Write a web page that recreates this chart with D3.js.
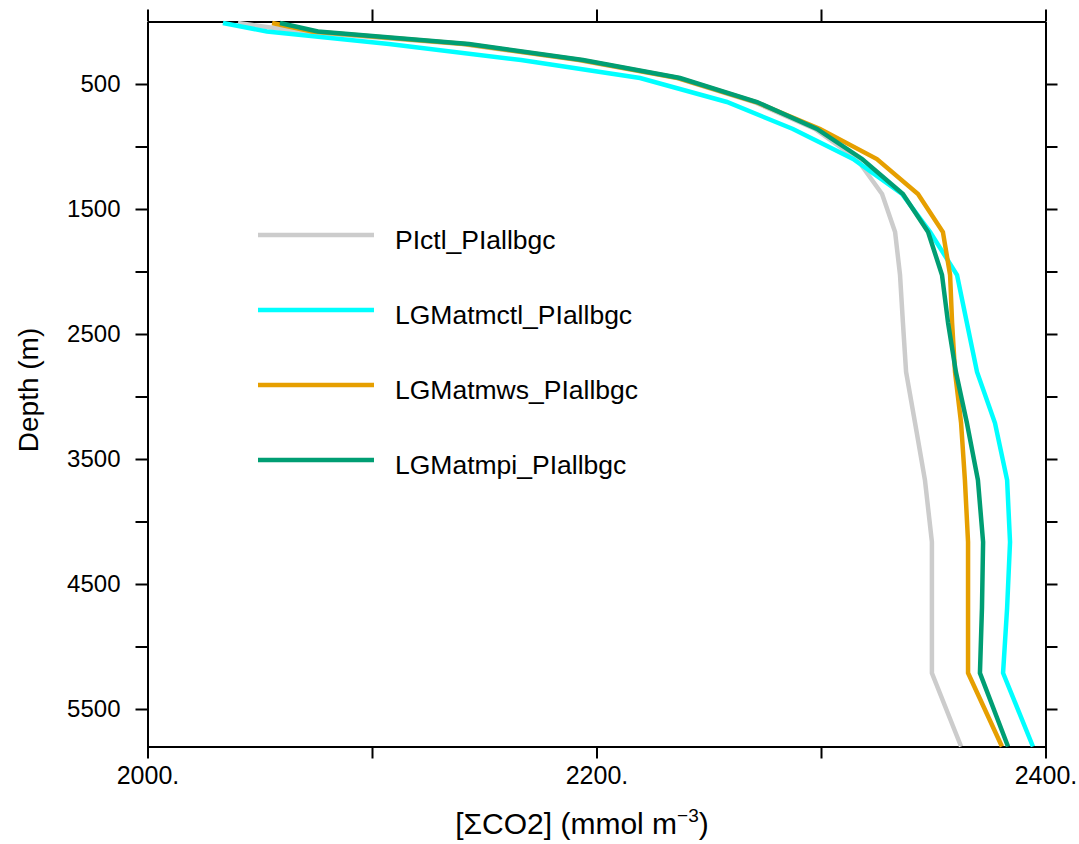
<!DOCTYPE html>
<html lang="en">
<head>
<meta charset="UTF-8">
<title>DIC profiles</title>
<script src="https://d3js.org/d3.v7.min.js"></script>
<style>
    body { margin: 0; background: #fff; }
    svg { display: block; font-family: "Liberation Sans", Arial, sans-serif; }
    .axis path, .axis line { stroke: #000; stroke-width: 2; }
    .axis text { fill: #000; font-size: 24px; }
    .xaxis text { font-size: 25px; }
</style>
</head>
<body>
<svg width="1079" height="844"></svg>
<script>
// model levels (m) and [ΣCO2] per run
var depth = [12, 80, 180, 308, 452, 644, 860, 1100, 1380, 1684, 2028, 2412, 2804, 3212, 3668, 4164, 4692, 5212, 5800];
var piCtl = [2040.3, 2067.9, 2140.1, 2191.8, 2235.9, 2270.2, 2297.3, 2316.0, 2327.2, 2333.0, 2335.2, 2336.5, 2337.9, 2341.9, 2346.3, 2349.4, 2349.4, 2349.4, 2362.4];
var lgmCtl = [2033.6, 2053.2, 2107.6, 2166.4, 2219.4, 2258.1, 2287.5, 2314.3, 2336.1, 2348.6, 2360.6, 2365.0, 2369.5, 2377.5, 2382.9, 2384.2, 2382.9, 2381.1, 2394.4];
var lgmWs = [2055.5, 2073.3, 2141.4, 2192.7, 2236.3, 2271.0, 2299.6, 2324.9, 2343.2, 2354.3, 2357.5, 2358.4, 2359.7, 2362.4, 2364.1, 2365.5, 2365.5, 2365.5, 2380.6];
var lgmPi = [2059.0, 2075.9, 2143.2, 2194.0, 2237.2, 2271.5, 2298.2, 2318.3, 2336.5, 2347.7, 2353.9, 2356.6, 2360.1, 2365.0, 2369.9, 2372.2, 2371.7, 2370.8, 2383.3];

var seriesNames = ["PIctl_PIallbgc", "LGMatmctl_PIallbgc", "LGMatmws_PIallbgc", "LGMatmpi_PIallbgc"];
var seriesColors = ["#cccccc", "#00ffff", "#e69f00", "#009e73"];
var seriesValues = [piCtl, lgmCtl, lgmWs, lgmPi];

var xTicks = [2000, 2100, 2200, 2300, 2400];
var xLabels = [2000, 2200, 2400];
var yTicks = [500, 1000, 1500, 2000, 2500, 3000, 3500, 4000, 4500, 5000, 5500];
var yLabels = [500, 1500, 2500, 3500, 4500, 5500];

var svg = d3.select("svg");

var x = d3.scaleLinear().domain([2000, 2400]).range([147.5, 1045.5]);
var y = d3.scaleLinear().domain([0, 5800]).range([21.5, 746.5]);

// axes on all four sides, ticks pointing out
svg.append("g").attr("class", "axis xaxis")
    .attr("transform", "translate(0," + y.range()[1] + ")")
    .call(d3.axisBottom(x).tickValues(xTicks).tickSizeInner(12).tickSizeOuter(0).tickPadding(8)
        .tickFormat(function (d) { return xLabels.indexOf(d) >= 0 ? d + "." : ""; }));

svg.append("g").attr("class", "axis")
    .attr("transform", "translate(0," + y.range()[0] + ")")
    .call(d3.axisTop(x).tickValues(xTicks).tickSizeInner(12).tickSizeOuter(0).tickFormat(""));

svg.append("g").attr("class", "axis")
    .attr("transform", "translate(" + x.range()[0] + ",0)")
    .call(d3.axisLeft(y).tickValues(yTicks).tickSizeInner(12).tickSizeOuter(0).tickPadding(15)
        .tickFormat(function (d) { return yLabels.indexOf(d) >= 0 ? d : ""; }));

svg.append("g").attr("class", "axis")
    .attr("transform", "translate(" + x.range()[1] + ",0)")
    .call(d3.axisRight(y).tickValues(yTicks).tickSizeInner(12).tickSizeOuter(0).tickFormat(""));

// profiles
var line = d3.line()
    .x(function (d) { return x(d[1]); })
    .y(function (d) { return y(d[0]); });

seriesValues.forEach(function (vals, i) {
    svg.append("path")
        .attr("d", line(d3.zip(depth, vals)))
        .attr("fill", "none")
        .attr("stroke", seriesColors[i])
        .attr("stroke-width", 4.5)
        .attr("stroke-linejoin", "miter");
});

// legend
var legend = svg.append("g").attr("transform", "translate(258,235)");
seriesNames.forEach(function (name, i) {
    legend.append("line")
        .attr("x1", 0).attr("x2", 116)
        .attr("y1", i * 75).attr("y2", i * 75)
        .attr("stroke", seriesColors[i])
        .attr("stroke-width", 4.5);
    legend.append("text")
        .attr("x", 137).attr("y", i * 75 + 14)
        .attr("font-size", 26.5)
        .text(name);
});

// axis titles
var xt = svg.append("text")
    .attr("x", 582).attr("y", 834)
    .attr("text-anchor", "middle")
    .attr("font-size", 30);
xt.append("tspan").text("[\u03A3CO2] (mmol m");
xt.append("tspan").attr("dy", -12).attr("font-size", 19).text("\u22123");
xt.append("tspan").attr("dy", 12).text(")");

svg.append("text")
    .attr("transform", "translate(38,390) rotate(-90)")
    .attr("text-anchor", "middle")
    .attr("font-size", 28)
    .text("Depth (m)");
</script>
</body>
</html>
